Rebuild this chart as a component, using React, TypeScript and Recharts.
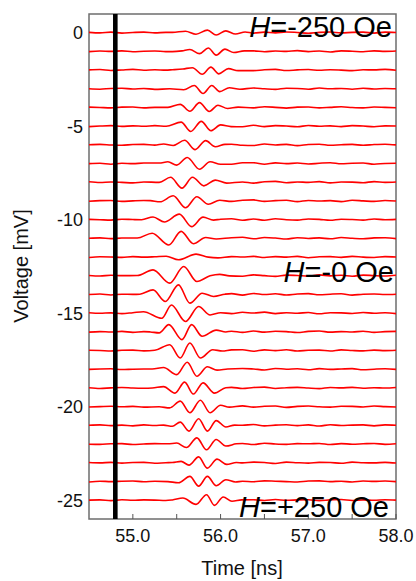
import React from 'react';
import { LineChart, Line, XAxis, YAxis, ReferenceArea } from 'recharts';

// trace baselines [mV], top (H = -250 Oe) to bottom (H = +250 Oe)
const offsets = [0, -1, -2, -3, -4, -5, -6, -7, -8, -9, -10, -11, -12, -13, -14, -15, -16, -17, -18, -19, -20, -21, -22, -23, -24, -25];

// background sample times [ns]
const bgTimes = [54.5, 54.625, 54.75, 54.875, 55.0, 55.125, 55.25, 55.375, 55.5, 55.625, 55.75, 55.875, 56.0, 56.125, 56.25, 56.375, 56.5, 56.625, 56.75, 56.875, 57.0, 57.125, 57.25, 57.375, 57.5, 57.625, 57.75, 57.875, 58.0];

// baseline noise [mV] on bgTimes
const n00 = [0.02, -0.01, 0.03, -0.02, 0.01, 0.03, -0.01, 0.02, 0.01, -0.02, 0.02, 0.01, -0.01, 0.02, 0.0, -0.02, 0.03, -0.01, 0.04, 0.01, -0.03, 0.02, 0.04, -0.01, 0.02, 0.03, -0.02, 0.03, 0.01];
const n01 = [-0.01, 0.02, 0.0, 0.03, -0.02, 0.01, 0.02, -0.01, 0.03, 0.0, -0.02, 0.02, 0.01, -0.03, 0.02, 0.03, -0.02, 0.02, 0.0, 0.04, -0.01, 0.02, -0.03, 0.03, 0.01, -0.02, 0.03, 0.0, 0.02];
const n02 = [0.01, 0.03, -0.02, 0.01, 0.04, -0.01, 0.02, 0.0, 0.02, -0.01, 0.03, 0.0, -0.02, 0.02, 0.01, -0.03, 0.02, 0.04, -0.02, 0.01, 0.03, -0.01, 0.02, 0.0, -0.03, 0.02, 0.01, 0.04, -0.01];
const n03 = [0.0, -0.02, 0.02, 0.03, -0.01, 0.02, -0.03, 0.01, 0.02, 0.0, 0.01, -0.02, 0.02, 0.03, -0.01, 0.04, 0.0, -0.03, 0.03, 0.02, -0.02, 0.04, 0.0, 0.02, -0.02, 0.03, -0.01, 0.02, 0.0];
const n04 = [0.02, 0.0, -0.02, 0.02, 0.03, -0.02, 0.01, 0.03, -0.01, 0.02, 0.0, 0.01, 0.03, -0.02, 0.02, -0.02, 0.04, 0.01, -0.03, 0.02, 0.03, -0.02, 0.01, 0.04, 0.0, -0.02, 0.03, 0.01, -0.01];
const n05 = [-0.02, 0.01, 0.03, -0.01, 0.02, 0.0, 0.03, -0.02, 0.01, 0.02, -0.01, 0.03, 0.0, 0.02, -0.03, 0.05, -0.02, 0.03, 0.01, -0.03, 0.04, 0.0, 0.02, -0.02, 0.03, 0.01, -0.03, 0.02, 0.01];
const n06 = [0.01, 0.03, 0.0, -0.02, 0.02, 0.03, -0.01, 0.01, 0.02, -0.02, 0.01, 0.03, 0.0, 0.04, -0.02, -0.03, 0.05, 0.0, 0.03, -0.04, 0.02, 0.04, -0.02, 0.01, 0.03, -0.02, 0.02, 0.04, 0.0];
const n07 = [0.0, 0.02, -0.03, 0.02, 0.0, 0.03, 0.01, -0.02, 0.02, 0.01, -0.01, 0.02, 0.03, -0.03, 0.05, 0.05, -0.03, 0.04, 0.0, 0.03, -0.02, 0.02, 0.05, -0.01, 0.02, 0.03, -0.03, 0.01, 0.02];
const n08 = [0.03, -0.01, 0.02, 0.0, -0.03, 0.02, 0.01, 0.03, -0.01, 0.02, 0.0, 0.02, -0.02, 0.05, 0.02, -0.04, 0.03, 0.05, -0.02, 0.02, 0.0, 0.04, -0.03, 0.02, 0.01, -0.02, 0.04, 0.0, 0.02];
const n09 = [-0.01, 0.02, 0.03, -0.02, 0.01, 0.03, 0.0, 0.02, 0.01, -0.01, 0.02, 0.0, 0.03, -0.02, 0.04, 0.06, -0.02, 0.02, 0.04, -0.03, 0.03, 0.0, 0.02, -0.03, 0.04, 0.01, -0.02, 0.03, 0.0];
const n10 = [0.02, 0.0, -0.02, 0.03, 0.01, 0.02, -0.01, 0.03, 0.0, 0.02, -0.02, 0.01, 0.03, 0.05, -0.03, 0.04, -0.03, 0.05, 0.0, -0.02, 0.04, 0.02, -0.03, 0.03, 0.01, -0.02, 0.04, 0.0, 0.02];
const n11 = [0.01, 0.03, -0.01, 0.02, 0.0, 0.03, 0.01, -0.02, 0.02, 0.0, 0.03, 0.01, -0.02, 0.04, 0.06, -0.02, 0.05, 0.02, -0.03, 0.04, 0.0, 0.03, -0.02, 0.05, 0.01, -0.02, 0.03, 0.04, -0.01];
const n12 = [-0.02, 0.02, 0.01, -0.01, 0.03, 0.0, 0.02, -0.02, 0.03, 0.01, 0.0, 0.02, -0.01, 0.03, 0.01, 0.04, -0.02, 0.03, 0.0, 0.04, -0.03, 0.02, 0.03, -0.01, 0.04, 0.0, -0.02, 0.03, 0.01];
const n13 = [0.02, -0.01, 0.03, 0.01, -0.02, 0.02, 0.0, 0.03, 0.01, -0.02, 0.02, 0.0, 0.03, 0.06, -0.02, 0.05, 0.01, -0.03, 0.04, 0.02, -0.02, 0.05, 0.0, 0.03, -0.02, 0.04, 0.01, -0.01, 0.03];
const n14 = [0.0, 0.03, -0.02, 0.02, 0.01, -0.01, 0.03, 0.02, 0.0, 0.01, -0.02, 0.03, 0.0, 0.05, -0.03, 0.06, 0.0, 0.04, -0.02, 0.03, 0.05, -0.01, 0.02, 0.04, -0.03, 0.02, 0.03, 0.0, 0.02];
const n15 = [0.03, 0.0, 0.02, -0.02, 0.03, 0.01, -0.01, 0.02, 0.0, 0.03, -0.01, 0.02, 0.04, -0.02, 0.05, 0.01, 0.06, -0.02, 0.03, 0.0, 0.04, -0.03, 0.03, 0.02, -0.01, 0.04, 0.0, 0.03, -0.02];
const n16 = [-0.01, 0.02, 0.0, 0.03, -0.02, 0.02, 0.03, -0.01, 0.01, 0.02, 0.0, -0.01, 0.03, 0.04, -0.02, 0.05, -0.01, 0.04, 0.02, -0.03, 0.03, 0.05, -0.01, 0.02, 0.0, 0.04, -0.02, 0.02, 0.03];
const n17 = [0.02, 0.01, -0.02, 0.02, 0.03, -0.01, 0.01, 0.03, 0.0, -0.02, 0.02, 0.01, 0.0, 0.04, 0.05, -0.03, 0.04, 0.0, 0.05, -0.02, 0.02, 0.03, -0.02, 0.04, 0.01, -0.01, 0.03, 0.0, 0.02];
const n18 = [0.0, 0.02, 0.03, -0.01, 0.01, 0.02, -0.02, 0.02, 0.01, 0.0, 0.02, -0.01, 0.03, -0.02, 0.05, 0.02, -0.03, 0.05, 0.01, 0.03, -0.02, 0.04, 0.0, 0.02, 0.04, -0.02, 0.01, 0.03, 0.0];
const n19 = [0.02, -0.02, 0.01, 0.03, 0.0, -0.01, 0.02, 0.03, -0.01, 0.02, 0.0, 0.01, 0.02, 0.04, -0.02, 0.03, 0.05, -0.02, 0.02, 0.04, 0.0, -0.03, 0.03, 0.01, 0.04, -0.01, 0.02, 0.0, 0.03];
const n20 = [-0.01, 0.01, 0.03, 0.0, 0.02, -0.02, 0.03, 0.01, 0.02, -0.01, 0.02, 0.03, 0.0, 0.02, 0.05, -0.02, 0.03, 0.04, -0.03, 0.02, 0.04, 0.0, -0.02, 0.03, 0.02, -0.01, 0.04, 0.01, -0.01];
const n21 = [0.01, 0.03, -0.01, 0.02, -0.02, 0.03, 0.0, 0.02, 0.03, -0.02, 0.01, 0.02, 0.0, 0.03, 0.01, 0.05, -0.02, 0.02, 0.04, -0.01, 0.03, -0.03, 0.04, 0.0, 0.02, 0.03, -0.02, 0.03, 0.01];
const n22 = [0.0, -0.01, 0.02, 0.03, -0.02, 0.01, 0.03, -0.01, 0.02, 0.01, 0.0, -0.02, 0.02, 0.0, 0.04, -0.02, 0.05, 0.01, -0.01, 0.03, 0.02, 0.04, -0.02, 0.03, 0.0, 0.02, 0.04, -0.01, 0.02];
const n23 = [0.02, 0.0, 0.03, -0.01, 0.02, 0.03, -0.02, 0.01, 0.0, 0.02, -0.01, 0.03, 0.01, 0.02, 0.0, 0.04, 0.02, -0.03, 0.04, 0.01, -0.01, 0.03, 0.02, -0.02, 0.04, 0.01, 0.0, 0.03, -0.01];
const n24 = [-0.02, 0.02, 0.0, 0.02, 0.03, -0.01, 0.02, 0.0, 0.03, -0.02, 0.02, 0.01, 0.0, 0.03, 0.02, -0.01, 0.04, 0.02, 0.0, -0.02, 0.03, 0.04, 0.0, 0.02, -0.02, 0.03, 0.01, 0.03, 0.0];
const n25 = [0.01, 0.02, -0.02, 0.03, 0.0, 0.02, 0.01, -0.01, 0.02, 0.03, 0.0, 0.01, -0.02, 0.03, 0.01, 0.03, -0.01, 0.04, 0.0, 0.02, 0.03, -0.02, 0.02, 0.04, -0.01, 0.02, 0.0, 0.03, 0.01];

// wave packet [time ns, deviation mV] read from peaks / troughs
const p00 = [[55.45, 0.02], [55.6, 0.08], [55.72, -0.08], [55.85, 0.14], [55.95, -0.12], [56.06, 0.1], [56.17, -0.07], [56.28, 0.04]];
const p01 = [[55.45, -0.01], [55.56, 0.03], [55.65, 0.1], [55.76, -0.12], [55.86, 0.18], [55.95, -0.2], [56.05, 0.12], [56.15, -0.06], [56.27, 0.03]];
const p02 = [[55.45, 0.02], [55.57, 0.06], [55.68, 0.13], [55.79, -0.22], [55.89, 0.16], [55.98, -0.2], [56.09, 0.08], [56.2, -0.03]];
const p03 = [[55.42, 0.0], [55.58, -0.05], [55.7, 0.18], [55.8, -0.25], [55.9, 0.18], [55.99, -0.15], [56.1, 0.06], [56.22, -0.02]];
const p04 = [[55.4, 0.01], [55.54, 0.17], [55.65, -0.2], [55.76, 0.26], [55.87, -0.21], [55.97, 0.12], [56.08, -0.05], [56.2, 0.02]];
const p05 = [[55.38, 0.0], [55.55, 0.22], [55.66, -0.28], [55.78, 0.26], [55.89, -0.24], [56.0, 0.07], [56.12, -0.02]];
const p06 = [[55.35, 0.05], [55.46, -0.03], [55.59, 0.25], [55.71, -0.25], [55.83, 0.23], [55.94, -0.1], [56.05, 0.03]];
const p07 = [[55.3, 0.03], [55.4, 0.1], [55.5, -0.08], [55.62, 0.33], [55.76, -0.3], [55.88, 0.1], [56.0, -0.03]];
const p08 = [[55.3, 0.0], [55.43, 0.27], [55.56, -0.31], [55.68, 0.27], [55.81, -0.19], [55.94, 0.12], [56.07, -0.04]];
const p09 = [[55.2, 0.02], [55.31, -0.04], [55.46, 0.28], [55.6, -0.36], [55.73, 0.23], [55.86, -0.17], [55.99, 0.04]];
const p10 = [[55.1, 0.0], [55.23, 0.15], [55.36, -0.12], [55.53, 0.3], [55.67, -0.37], [55.8, 0.14], [55.92, -0.02]];
const p11 = [[55.05, 0.02], [55.22, 0.28], [55.41, -0.35], [55.55, 0.38], [55.69, -0.28], [55.83, 0.05], [55.95, -0.03]];
const p12 = [[55.25, 0.02], [55.38, 0.05], [55.52, -0.14], [55.72, 0.16], [55.86, 0.0], [55.97, -0.04]];
const p13 = [[55.05, 0.02], [55.23, 0.32], [55.42, -0.39], [55.58, 0.5], [55.73, -0.3], [55.88, 0.0], [55.99, 0.08], [56.1, 0.0]];
const p14 = [[55.08, 0.02], [55.23, 0.25], [55.37, -0.37], [55.52, 0.52], [55.65, -0.46], [55.79, 0.07], [55.92, -0.1], [56.05, 0.02]];
const p15 = [[55.12, 0.08], [55.33, -0.27], [55.44, 0.44], [55.6, -0.44], [55.75, 0.36], [55.88, -0.09], [56.0, 0.03]];
const p16 = [[55.2, 0.0], [55.3, -0.05], [55.41, 0.39], [55.56, -0.41], [55.67, 0.39], [55.79, -0.23], [55.95, 0.1], [56.06, 0.0]];
const p17 = [[55.25, 0.02], [55.42, 0.32], [55.54, -0.39], [55.65, 0.41], [55.77, -0.39], [55.91, 0.05], [56.02, -0.02]];
const p18 = [[55.22, 0.02], [55.35, 0.1], [55.5, -0.28], [55.62, 0.38], [55.73, -0.37], [55.85, 0.14], [55.96, -0.04], [56.08, 0.02]];
const p19 = [[55.22, 0.0], [55.35, 0.08], [55.48, -0.27], [55.59, 0.32], [55.69, -0.32], [55.8, 0.28], [55.93, -0.27], [56.06, 0.02]];
const p20 = [[55.3, 0.0], [55.42, -0.06], [55.54, 0.3], [55.65, -0.32], [55.77, 0.35], [55.88, -0.32], [56.0, 0.08], [56.1, -0.02]];
const p21 = [[55.35, 0.02], [55.45, -0.04], [55.54, 0.18], [55.64, -0.3], [55.75, 0.36], [55.85, -0.3], [55.95, 0.26], [56.06, -0.08], [56.16, 0.02]];
const p22 = [[55.4, 0.02], [55.5, 0.06], [55.61, -0.18], [55.73, 0.34], [55.84, -0.3], [55.95, 0.25], [56.06, -0.1], [56.18, 0.02]];
const p23 = [[55.45, 0.02], [55.55, 0.08], [55.64, -0.12], [55.75, 0.32], [55.85, -0.28], [55.96, 0.2], [56.07, -0.08], [56.18, 0.02]];
const p24 = [[55.4, 0.0], [55.52, -0.06], [55.65, 0.28], [55.75, -0.24], [55.85, 0.28], [55.95, -0.22], [56.06, 0.1], [56.17, -0.02]];
const p25 = [[55.45, 0.02], [55.57, 0.12], [55.72, -0.22], [55.84, 0.3], [55.93, -0.27], [56.03, 0.18], [56.13, -0.05], [56.24, 0.02]];

// cursor position [ns]
const cursorTime = 54.8;

const noiseSets = [n00, n01, n02, n03, n04, n05, n06, n07, n08, n09, n10, n11, n12, n13, n14, n15, n16, n17, n18, n19, n20, n21, n22, n23, n24, n25];
const packetSets = [p00, p01, p02, p03, p04, p05, p06, p07, p08, p09, p10, p11, p12, p13, p14, p15, p16, p17, p18, p19, p20, p21, p22, p23, p24, p25];

const font = '"Liberation Sans", Arial, sans-serif';

function buildTrace(k: number) {
  const pk = packetSets[k];
  const lo = pk[0][0] - 0.06;
  const hi = pk[pk.length - 1][0] + 0.06;
  const pts: { t: number; v: number }[] = [];
  bgTimes.forEach((t, i) => {
    if (t < lo || t > hi) pts.push({ t, v: offsets[k] + noiseSets[k][i] });
  });
  pk.forEach(([t, dv]) => pts.push({ t, v: offsets[k] + dv }));
  return pts.sort((a, b) => a.t - b.t);
}

const traces = offsets.map((_, k) => buildTrace(k));
const cursorData = [{ t: cursorTime, v: -26 }, { t: cursorTime, v: 1 }];

const TimeTick = (props: any) => {
  const { x, y, payload } = props;
  const major = Number.isInteger(payload.value);
  return (
    <g>
      <line x1={x} x2={x} y1={y} y2={y - 5} stroke="#555" strokeWidth={1} />
      {major && (
        <text x={x} y={y + 23} textAnchor="middle" fontSize={18} fontFamily={font} fill="#111">
          {payload.value.toFixed(1)}
        </text>
      )}
    </g>
  );
};

export default function App() {
  return (
    <div style={{ position: 'absolute', left: 0, top: 0, width: 416, height: 581, background: '#fff' }}>
      <LineChart width={416} height={581} margin={{ top: 14, right: 20, bottom: 0, left: 0 }}>
        <XAxis
          type="number"
          dataKey="t"
          domain={[54.5, 58]}
          ticks={[55, 55.5, 56, 56.5, 57, 57.5, 58]}
          allowDataOverflow
          height={62}
          axisLine={false}
          tickLine={false}
          tickSize={0}
          tickMargin={0}
          tick={<TimeTick />}
        />
        <YAxis
          type="number"
          dataKey="v"
          domain={[-26, 1]}
          ticks={[0, -5, -10, -15, -20, -25]}
          allowDataOverflow
          width={89}
          axisLine={false}
          tickLine={false}
          tickSize={0}
          tickMargin={6}
          tick={{ fill: '#111', fontSize: 18, fontFamily: font }}
        />
        <ReferenceArea x1={54.5} x2={58} y1={-26} y2={1} fill="none" stroke="#6e6e6e" strokeWidth={1.5} />
        {traces.map((d, k) => (
          <Line
            key={k}
            data={d}
            dataKey="v"
            type="monotone"
            stroke="#ff0000"
            strokeWidth={1.6}
            dot={false}
            activeDot={false}
            isAnimationActive={false}
          />
        ))}
        <Line data={cursorData} dataKey="v" stroke="#000" strokeWidth={4.6} dot={false} activeDot={false} isAnimationActive={false} />
      </LineChart>
      <svg width={416} height={581} style={{ position: 'absolute', left: 0, top: 0, pointerEvents: 'none' }}>
        <g fontFamily={font} fontSize={29} fill="#000" textAnchor="end">
          <text x={392} y={37}>
            <tspan fontStyle="italic">H</tspan>=-250 Oe
          </text>
          <text x={394} y={282}>
            <tspan fontStyle="italic">H</tspan>=-0 Oe
          </text>
          <text x={389} y={517}>
            <tspan fontStyle="italic">H</tspan>=+250 Oe
          </text>
        </g>
        <text x={242} y={575} textAnchor="middle" fontFamily={font} fontSize={20} fill="#111">
          Time [ns]
        </text>
        <text x={28} y={266} textAnchor="middle" fontFamily={font} fontSize={20} fill="#111" transform="rotate(-90 28 266)">
          Voltage [mV]
        </text>
      </svg>
    </div>
  );
}
